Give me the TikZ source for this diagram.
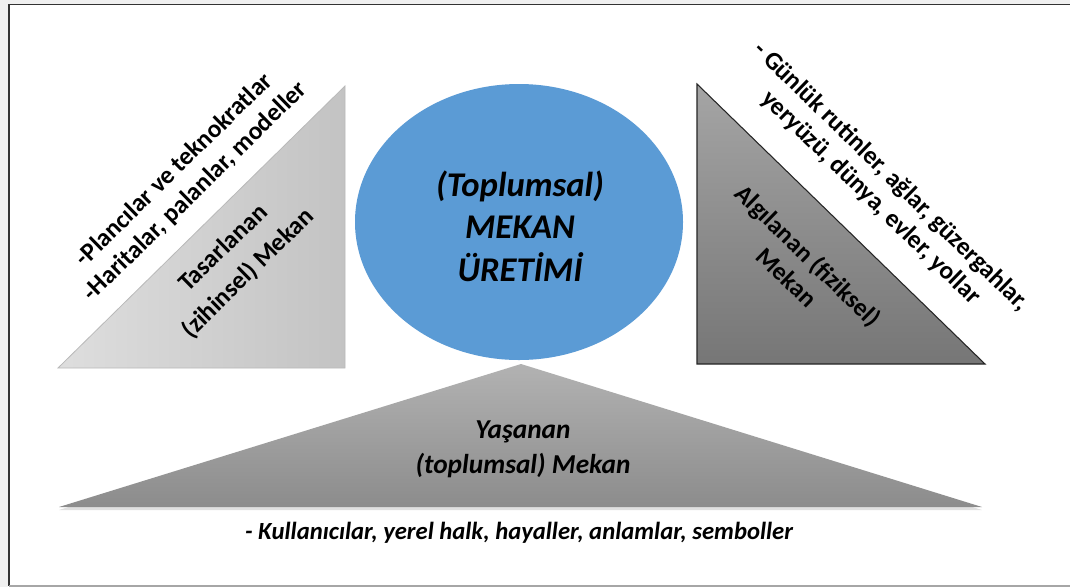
\documentclass[tikz,border=0pt]{standalone}
\usepackage{fontspec}
\setmainfont{Carlito}
\usetikzlibrary{shapes.geometric}
\definecolor{blueE}{HTML}{5B9BD5}
\tikzset{
  lbl/.style={font=\bfseries\fontsize{19}{22.5}\selectfont, align=center, inner sep=0pt},
  ilbl/.style={font=\bfseries\itshape, align=center, inner sep=0pt},
}
\begin{document}
\begin{tikzpicture}[x=0.75pt,y=-0.75pt]
\useasboundingbox (0,0) rectangle (1070,587);
\fill[white] (0,0) rectangle (1070,587);
\fill[gray!12] (0,0) rectangle (1070,4);
\fill[gray!12] (0,0) rectangle (8,587);
% frame
\coordinate (ftl) at (9,4.5);
\coordinate (ftr) at (1070,4.5);
\coordinate (fbl) at (9,586);
\coordinate (fbr) at (1070,586);
\draw[black!80, line width=1.2pt] (ftr) -- (ftl) -- (fbl);
\draw[gray!70, line width=1pt] (fbl) -- (fbr);
% left triangle
\coordinate (L1) at (58,368);
\coordinate (L2) at (345,368);
\coordinate (L3) at (345,86);
\shade[left color=gray!26, right color=gray!47] (L1) -- (L2) -- (L3) -- cycle;
\draw[gray!55, line width=0.6pt] (L1) -- (L2) -- (L3) -- cycle;
% right triangle
\coordinate (R1) at (697,84);
\coordinate (R2) at (697,364);
\coordinate (R3) at (985,364);
\shade[top color={rgb,255:red,165;green,165;blue,165}, bottom color={rgb,255:red,118;green,118;blue,118}] (R1) -- (R2) -- (R3) -- cycle;
\draw[black!85, line width=0.8pt] (R1) -- (R2) -- (R3) -- cycle;
% bottom triangle
\coordinate (B1) at (521,364);
\coordinate (B2) at (59,507);
\coordinate (B3) at (982,507);
\fill[black, opacity=0.12] (521,367) -- (59,510) -- (982,510) -- cycle;
\shade[top color={rgb,255:red,178;green,178;blue,178}, bottom color={rgb,255:red,140;green,140;blue,140}] (B1) -- (B2) -- (B3) -- cycle;
% ellipse
\node[ellipse, fill=blueE, minimum width=246pt, minimum height=207pt, inner sep=0pt] (circ) at (519,222) {};
\node[ilbl, font=\bfseries\itshape\fontsize{26}{32}\selectfont] (ctext) at (520,226) {(Toplumsal)\\MEKAN\\ÜRETİMİ};
% left texts
\node[lbl, rotate=44.4] (ltop) at (185,181) {-Plancılar ve teknokratlar\\-Haritalar, palanlar, modeller};
\node[lbl, rotate=44.4, font=\bfseries\fontsize{19}{26.5}\selectfont] (lin) at (236,261) {Tasarlanan\\(zihinsel) Mekan};
% right texts
\node[lbl, rotate=-44.2, font=\bfseries\fontsize{19}{22}\selectfont] (rtop) at (881,187.5) {- Günlük rutinler, ağlar, güzergahlar,\\yeryüzü, dünya, evler, yollar};
\node[lbl, rotate=-44.2, font=\bfseries\fontsize{19}{23}\selectfont] (rin) at (798,266) {Algılanan (fiziksel)\\Mekan};
% bottom texts
\node[ilbl, font=\bfseries\itshape\fontsize{20.5}{26}\selectfont] (bin) at (523,449.5) {Yaşanan\\(toplumsal) Mekan};
\node[ilbl, font=\bfseries\itshape\fontsize{18.5}{22}\selectfont] (bout) at (519,533) {- Kullanıcılar, yerel halk, hayaller, anlamlar, semboller};
\end{tikzpicture}
\end{document}
